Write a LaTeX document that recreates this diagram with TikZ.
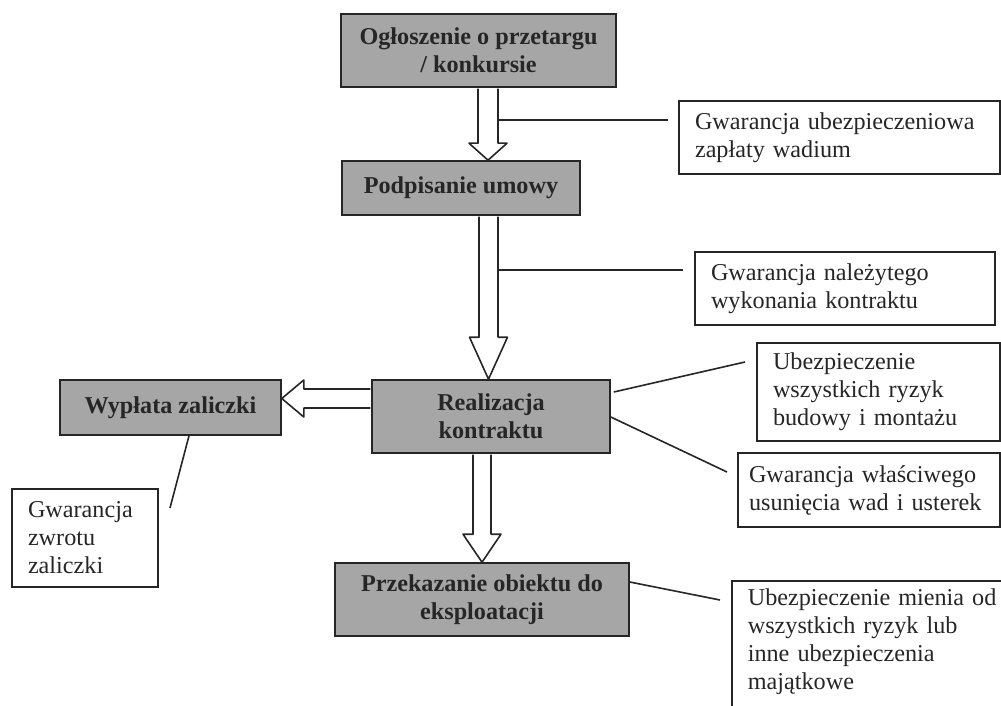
\documentclass[tikz,border=0pt]{standalone}
\usepackage{fontspec}
\setmainfont{Liberation Serif}
\usetikzlibrary{calc}
\definecolor{boxgray}{RGB}{166,166,166}
\definecolor{ink}{RGB}{38,38,38}

\begin{document}
\begin{tikzpicture}[x=1pt,y=-1pt,
  stage/.style={draw=ink,line width=1.6pt,fill=boxgray,text=ink,align=center,inner sep=2pt,font=\fontsize{24.2}{28}\selectfont\bfseries},
  cover/.style={draw=ink,line width=1.6pt,fill=white,text=ink,align=left,inner ysep=2pt,inner xsep=16pt,font=\fontsize{24.2}{28}\selectfont},
  hollow/.style={draw=ink,line width=1.6pt,fill=white,line join=round},
  link/.style={draw=ink,line width=1.6pt}]
\clip (0,0) rectangle (1001,706);
%
\node [stage,minimum width=275,minimum height=73] (ogl) at (478.5,50.5) {Ogłoszenie o przetargu\\/ konkursie};
\node [stage,minimum width=238,minimum height=54] (podp) at (461,188) {Podpisanie umowy};
\node [stage,minimum width=238,minimum height=73] (real) at (491,416.5) {Realizacja\\kontraktu};
\node [stage,minimum width=221,minimum height=55] (wypl) at (170.5,407.5) {Wypłata zaliczki};
\node [stage,minimum width=294,minimum height=73] (przek) at (482,599.5) {Przekazanie obiektu do\\eksploatacji};
%
\node [cover,text width=289,minimum height=73] (gwadium) at (839.5,137.5) {Gwarancja ubezpieczeniowa\\zapłaty wadium};
\node [cover,text width=268,minimum height=73] (gnalez) at (845,288.5) {Gwarancja należytego\\wykonania kontraktu};
\node [cover,text width=211,minimum height=98] (ubudowy) at (878.5,392) {Ubezpieczenie\\wszystkich ryzyk\\budowy i montażu};
\node [cover,text width=240,inner xsep=11pt,minimum height=74] (gwlasc) at (869,490) {Gwarancja właściwego\\usunięcia wad i usterek};
\node [cover,text width=114,minimum height=98] (gzwrot) at (85,538) {Gwarancja\\zwrotu\\zaliczki};
\node [cover,draw=none,fill=none,text width=300,inner xsep=15pt,inner ysep=7pt,anchor=north west] (umienia) at (732,581) {Ubezpieczenie mienia od\\wszystkich ryzyk lub\\inne ubezpieczenia\\majątkowe};
\draw [link] (umienia.north east) -- (umienia.north west) -- ++(0,140);
%
% hollow arrows
\coordinate (a1) at ($(ogl.south)+(9.5,0)$);
\coordinate (b1) at (a1 |- podp.north);
\draw [hollow] ($(a1)+(-10,0.8)$) -- ($(b1)+(-10,-17)$) -- ($(b1)+(-19,-17)$) -- (b1) -- ($(b1)+(19,-17)$) -- ($(b1)+(10,-17)$) -- ($(a1)+(10,0.8)$);
%
\coordinate (a2) at ($(podp.south)+(27.5,0)$);
\coordinate (b2) at (a2 |- real.north);
\draw [hollow] ($(a2)+(-9.5,0.8)$) -- ($(b2)+(-9.5,-42)$) -- ($(b2)+(-19,-42)$) -- (b2) -- ($(b2)+(19,-42)$) -- ($(b2)+(9.5,-42)$) -- ($(a2)+(9.5,0.8)$);
%
\coordinate (a3) at (przek.north |- real.south);
\coordinate (b3) at (przek.north);
\draw [hollow] ($(a3)+(-9,0.8)$) -- ($(b3)+(-9,-28)$) -- ($(b3)+(-19,-28)$) -- (b3) -- ($(b3)+(19,-28)$) -- ($(b3)+(9,-28)$) -- ($(a3)+(9,0.8)$);
%
\coordinate (a4) at ($(real.west)+(0,-18)$);
\coordinate (b4) at (wypl.east |- a4);
\draw [hollow] ($(a4)+(-0.8,-9.5)$) -- ($(b4)+(22,-9.5)$) -- ($(b4)+(22,-18.5)$) -- (b4) -- ($(b4)+(22,18.5)$) -- ($(b4)+(22,9.5)$) -- ($(a4)+(-0.8,9.5)$);
%
% lines to the covers
\coordinate (e1) at (668,120);
\coordinate (e2) at (683,270);
\coordinate (e3) at (745,362);
\coordinate (e4) at (727,472);
\coordinate (e5) at (170,508);
\coordinate (e6) at (720,600);
\draw [link] ($(b1 |- e1)+(10,0)$) -- (e1);
\draw [link] ($(b2 |- e2)+(9.5,0)$) -- (e2);
\draw [link] ($(real.east |- 0,392)+(3,0)$) -- (e3);
\draw [link] (real.east |- 0,417) -- (e4);
\draw [link] (wypl.south -| 189,0) -- (e5);
\draw [link] (przek.east |- 0,582) -- (e6);
\end{tikzpicture}
\end{document}
